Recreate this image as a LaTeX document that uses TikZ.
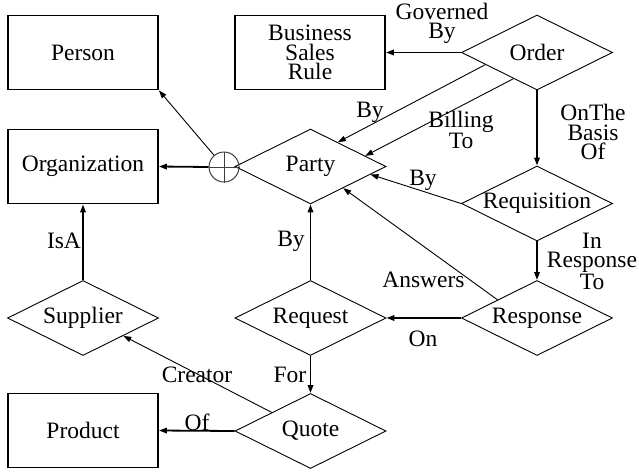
\documentclass[tikz,border=0pt]{standalone}
\usepackage{fontspec}
\setmainfont{Liberation Serif}
\usetikzlibrary{shapes.geometric,arrows.meta,calc}

\begin{document}
\begin{tikzpicture}[x=1pt,y=-1pt,
  every node/.style={font=\fontsize{23.5}{19.5}\selectfont},
  entity/.style={draw, line width=1.8pt, minimum width=150pt, minimum height=74pt,
                 inner sep=0pt, align=center},
  relation/.style={draw, diamond, line width=0.9pt, minimum width=151pt,
                   minimum height=75pt, inner sep=0pt},
  tip/.style={-{Triangle[length=8pt,width=5.5pt]}},
  strong/.style={tip, line width=1.8pt},
  weak/.style={tip, line width=0.9pt},
  lbl/.style={inner sep=0pt, align=center},
  joiner/.style={draw=black!75, line width=1pt, circle, minimum size=30pt, inner sep=0pt}
]
\useasboundingbox (0,0) rectangle (639,472);

% entities
\node[entity] (person)  at (83,52.5)  {Person};
\node[entity] (rule)    at (310,52.5) {Business\\Sales\\Rule};
\node[entity] (org)     at (83,166.5) {Organization};
\node[entity] (product) at (83,430.5) {Product};

% relationships
\node[relation, label={center:Order}]       (order)   at (537,52.5)  {};
\node[relation, label={center:Party}]       (party)   at (310.5,166.5) {};
\node[relation, label={center:Requisition}] (requis)  at (537,203.5) {};
\node[relation, label={center:Response}]    (resp)    at (537,318)   {};
\node[relation, label={center:Request}]     (request) at (310.5,318) {};
\node[relation, label={center:Supplier}]    (supp)    at (83,318)    {};
\node[relation, label={center:Quote}]       (quote)   at (310.5,431) {};

% exclusive-or junction
\node[joiner] (xor) at (224,167) {};
\draw[black!75, line width=1pt] (xor.north) -- (xor.south) (xor.west) -- (xor.east);

% connectors
\draw[strong] (xor.west) -- (org.east);
\draw[weak] (xor) -- (person.south east);
\draw[strong] (order.west) -- (rule.east);
\draw[weak] ($(order.west)!0.32!(order.south)$) -- ($(party.north)!0.36!(party.east)$);
\draw[weak] ($(order.west)!0.69!(order.south)$) -- ($(party.north)!0.72!(party.east)$);
\draw[strong] (order.south) -- (requis.north);
\draw[weak] (requis.west) -- ($(party.east)!0.21!(party.south)$);
\draw[strong] (requis.south) -- (resp.north);
\draw[weak] ($(resp.west)!0.48!(resp.north)$) -- ($(party.east)!0.57!(party.south)$);
\draw[strong] (resp.west) -- (request.east);
\draw[strong] (request.north) -- (party.south);
\draw[strong] (request.south) -- (quote.north);
\draw[weak] ($(quote.west)!0.49!(quote.north)$) -- ($(supp.east)!0.47!(supp.south)$);
\draw[strong] (quote.west) -- (product.east);
\draw[strong] (supp.north) -- (org.south);

% connector labels
\node[lbl] (lgov)  at (442,23.5) {Governed\\By};
\node[lbl] (lby1)  at (370,112)  {By};
\node[lbl] (lbill) at (461,130)  {Billing\\To};
\node[lbl] (lbas)  at (593,132)  {OnThe\\Basis\\Of};
\node[lbl] (lby2)  at (423,180)  {By};
\node[lbl] (lresp) at (592,261)  {In\\Response\\To};
\node[lbl] (lans)  at (423.5,280) {Answers};
\node[lbl] (lon)   at (423,339)  {On};
\node[lbl] (lby3)  at (291,241)  {By};
\node[lbl] (lisa)  at (64,241)   {IsA};
\node[lbl] (lfor)  at (290,375)  {For};
\node[lbl] (lcre)  at (197,375)  {Creator};
\node[lbl] (lof)   at (197,422)  {Of};
\end{tikzpicture}
\end{document}
